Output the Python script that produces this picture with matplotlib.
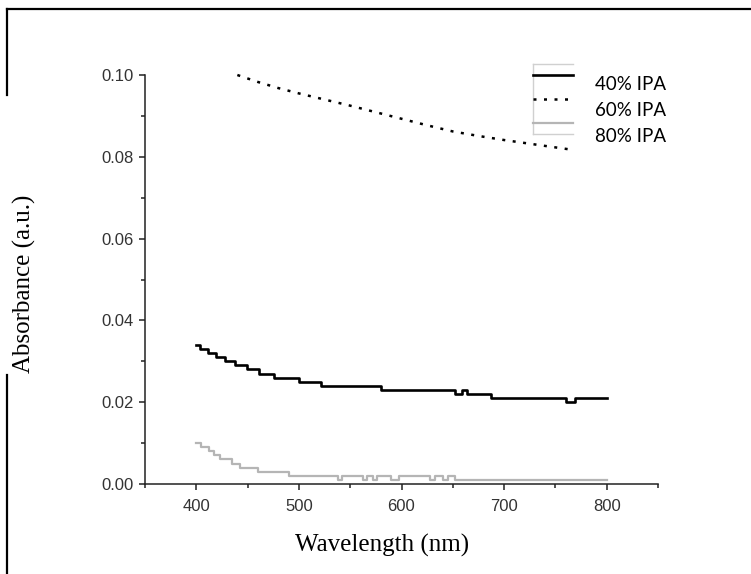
import matplotlib
matplotlib.use('Agg')
import matplotlib.pyplot as plt
from matplotlib.lines import Line2D
from matplotlib.ticker import MultipleLocator, FormatStrFormatter

# Data (wavelength in nm, absorbance in a.u.)
wl40 = [400, 404, 411, 419, 428, 438, 449, 461, 476, 500, 522, 580, 652, 659, 664, 687, 760, 769, 800]
abs40 = [0.034, 0.033, 0.032, 0.031, 0.030, 0.029, 0.028, 0.027, 0.026, 0.025, 0.024, 0.023,
         0.022, 0.023, 0.022, 0.021, 0.020, 0.021, 0.021]

wl60 = [440, 460, 480, 500, 525, 550, 575, 600, 625, 650, 675, 700, 725, 750, 767]
abs60 = [0.1000, 0.0983, 0.0968, 0.0955, 0.0940, 0.0925, 0.0909, 0.0893, 0.0877, 0.0862,
         0.0851, 0.0841, 0.0832, 0.0823, 0.0817]

wl80 = [400, 405, 412, 417, 423, 435, 443, 460, 490, 538, 542, 562, 566, 572, 576, 590, 598,
        628, 633, 640, 645, 652, 800]
abs80 = [0.010, 0.009, 0.008, 0.007, 0.006, 0.005, 0.004, 0.003, 0.002, 0.001, 0.002, 0.001,
         0.002, 0.001, 0.002, 0.001, 0.002, 0.001, 0.002, 0.001, 0.002, 0.001, 0.001]

labels = ['40% IPA', '60% IPA', '80% IPA']

W, H = 751, 574
fig = plt.figure(figsize=(W / 100, H / 100), dpi=100)
ax = fig.add_axes([145 / W, 1 - 484 / H, 513 / W, 409 / H])

grey = '#b5b5b5'
ax.step(wl40, abs40, where='post', color='black', lw=1.9)
ax.plot(wl60, abs60, color='black', lw=1.8, linestyle=(0, (1.2, 3.0)), clip_on=False)
ax.step(wl80, abs80, where='post', color=grey, lw=1.6)

ax.set_xlim(350, 850)
ax.set_ylim(0, 0.10)
ax.xaxis.set_major_locator(MultipleLocator(100))
ax.xaxis.set_minor_locator(MultipleLocator(50))
ax.yaxis.set_major_locator(MultipleLocator(0.02))
ax.yaxis.set_minor_locator(MultipleLocator(0.01))
ax.yaxis.set_major_formatter(FormatStrFormatter('%.2f'))
ax.set_xticks([400, 500, 600, 700, 800])

for s in ['top', 'right']:
    ax.spines[s].set_visible(False)
for s in ['left', 'bottom']:
    ax.spines[s].set_linewidth(1.1)
    ax.spines[s].set_color('#222222')

ax.tick_params(which='major', length=4.5, width=1.1, color='#222222',
               labelsize=12, labelcolor='#333333', labelfontfamily='Liberation Sans')
ax.tick_params(which='minor', length=3, width=1.1, color='#222222')
ax.tick_params(axis='x', which='major', pad=6)

# axis labels (serif, placed like the reference)
fig.text(382 / W, 1 - 545 / H, 'Wavelength (nm)', family='Liberation Serif', fontsize=18,
         ha='center', va='center')
fig.text(24 / W, 1 - 284 / H, 'Absorbance (a.u.)', family='Liberation Serif', fontsize=18,
         ha='center', va='center', rotation=90)

# hand-made legend as in the reference
def px(x, y):
    return x / W, 1 - y / H

for (x0, y0), (x1, y1) in [((533, 64), (573, 64)), ((533, 64), (533, 134)), ((533, 134), (573, 134))]:
    a, b = px(x0, y0)
    c, d = px(x1, y1)
    fig.add_artist(Line2D([a, c], [b, d], color='#d0d0d0', lw=1.0))

handle_styles = [dict(color='black', lw=1.9),
                 dict(color='black', lw=1.8, linestyle=(0, (1.2, 3.0))),
                 dict(color=grey, lw=1.6)]
for yy, st in zip([75, 99, 123], handle_styles):
    a, b = px(533, yy)
    c, d = px(573, yy)
    fig.add_artist(Line2D([a, c], [b, d], **st))

for yy, lab in zip([85, 111, 137], labels):
    a, b = px(595, yy)
    fig.text(a, b, lab, family='Lato', fontsize=13.5, ha='left', va='center')

# outer frame fragments
for (x0, y0), (x1, y1) in [((7, 9), (751, 9)), ((7, 9), (7, 95)), ((7, 375), (7, 574))]:
    a, b = px(x0, y0)
    c, d = px(x1, y1)
    fig.add_artist(Line2D([a, c], [b, d], color='black', lw=1.6))

fig.savefig('out.png', dpi=100)
